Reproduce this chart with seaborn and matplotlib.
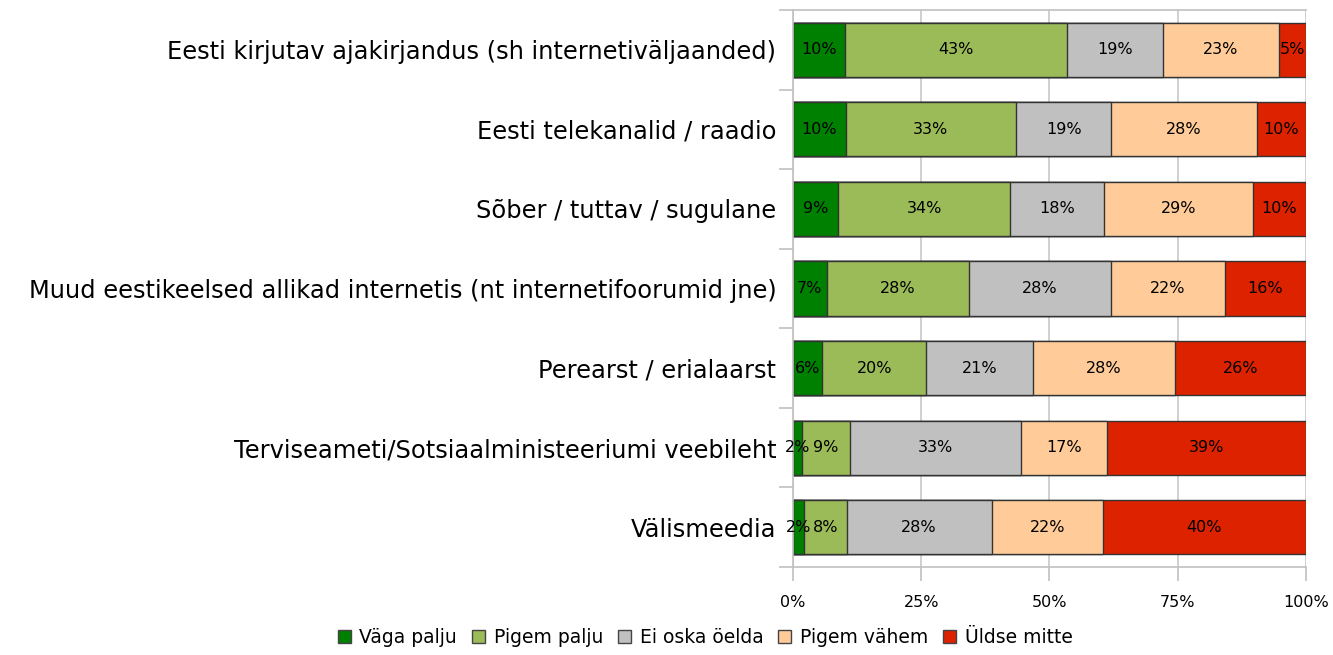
import numpy as np
import pandas as pd
import matplotlib.pyplot as plt
import seaborn as sns
from matplotlib.patches import Patch

sns.set_style("white")
plt.rcParams['font.family'] = ['DejaVu Sans']
plt.rcParams['text.color'] = 'black'
plt.rcParams['xtick.color'] = 'black'
plt.rcParams['ytick.color'] = 'black'

# -----------------------------
# Data
# -----------------------------
categories = [
    "Eesti kirjutav ajakirjandus (sh internetiväljaanded)",
    "Eesti telekanalid / raadio",
    "Sõber / tuttav / sugulane",
    "Muud eestikeelsed allikad internetis (nt internetifoorumid jne)",
    "Perearst / erialaarst",
    "Terviseameti/Sotsiaalministeeriumi veebileht",
    "Välismeedia",
]
answers = ["Väga palju", "Pigem palju", "Ei oska öelda", "Pigem vähem", "Üldse mitte"]

vaga_palju = [10.1, 10.3, 8.8, 6.6, 5.7, 1.7, 2.2]
pigem_palju = [43.3, 33.2, 33.6, 27.7, 20.3, 9.4, 8.3]
ei_oska = [18.7, 18.6, 18.3, 27.7, 20.9, 33.3, 28.2]
pigem_vahem = [22.7, 28.4, 29.1, 22.2, 27.6, 16.7, 21.7]
uldse_mitte = [5.2, 9.6, 10.3, 15.8, 25.6, 38.8, 39.6]

colors = ["#008000", "#9BBB59", "#C0C0C0", "#FFCC99", "#DD2200"]

df = pd.DataFrame({
    "Allikas": categories,
    answers[0]: vaga_palju,
    answers[1]: pigem_palju,
    answers[2]: ei_oska,
    answers[3]: pigem_vahem,
    answers[4]: uldse_mitte,
})
df[answers] = df[answers].div(df[answers].sum(axis=1), axis=0) * 100
cum = df[answers].cumsum(axis=1)

# -----------------------------
# Plot (stacked by overlaying cumulative bars)
# -----------------------------
fig = plt.figure(figsize=(13.33, 6.55), dpi=100)
ax = fig.add_axes([0.5949, 0.1344, 0.3848, 0.8503])

for i in reversed(range(len(answers))):
    sns.barplot(x=cum[answers[i]], y=df["Allikas"], color=colors[i], orient="h",
                width=0.68, edgecolor="#333333", linewidth=1.0, saturation=1, ax=ax)

for row in range(len(categories)):
    left = 0
    for a in answers:
        v = df.loc[row, a]
        ax.text(left + v / 2, row, f"{v:.0f}%", ha="center", va="center",
                fontsize=11.5, color="black")
        left += v

ax.set_xlim(0, 100)
ax.set_ylim(len(categories) - 0.5, -0.5)
ax.set_xticks([0, 25, 50, 75, 100])
ax.set_xticklabels(["0%", "25%", "50%", "75%", "100%"], fontsize=11.5)
ax.set_xlabel("")
ax.set_ylabel("")
ax.grid(axis="x", color="#C8C8C8", linewidth=1.2)
ax.set_axisbelow(True)

# category separators as ticks on y axis
ax.set_yticks(np.arange(-0.5, len(categories)), minor=True)
ax.tick_params(axis="y", which="minor", length=10, color="#C0C0C0", width=1.2, left=True)
ax.tick_params(axis="y", which="major", length=0, pad=12, labelsize=17.4)
ax.tick_params(axis="x", length=10, color="#C0C0C0", width=1.2, pad=10, bottom=True)

for s in ["left", "bottom", "top"]:
    ax.spines[s].set_color("#C0C0C0")
    ax.spines[s].set_linewidth(1.2)
ax.spines["right"].set_visible(False)

handles = [Patch(facecolor=c, edgecolor="#444444", label=a) for a, c in zip(answers, colors)]
fig.legend(handles=handles, loc="center", bbox_to_anchor=(0.529, 0.026), ncol=5,
           frameon=False, fontsize=13.5, handlelength=0.7, handleheight=0.7,
           handletextpad=0.45, columnspacing=0.8)

plt.savefig("out.png", dpi=100)
